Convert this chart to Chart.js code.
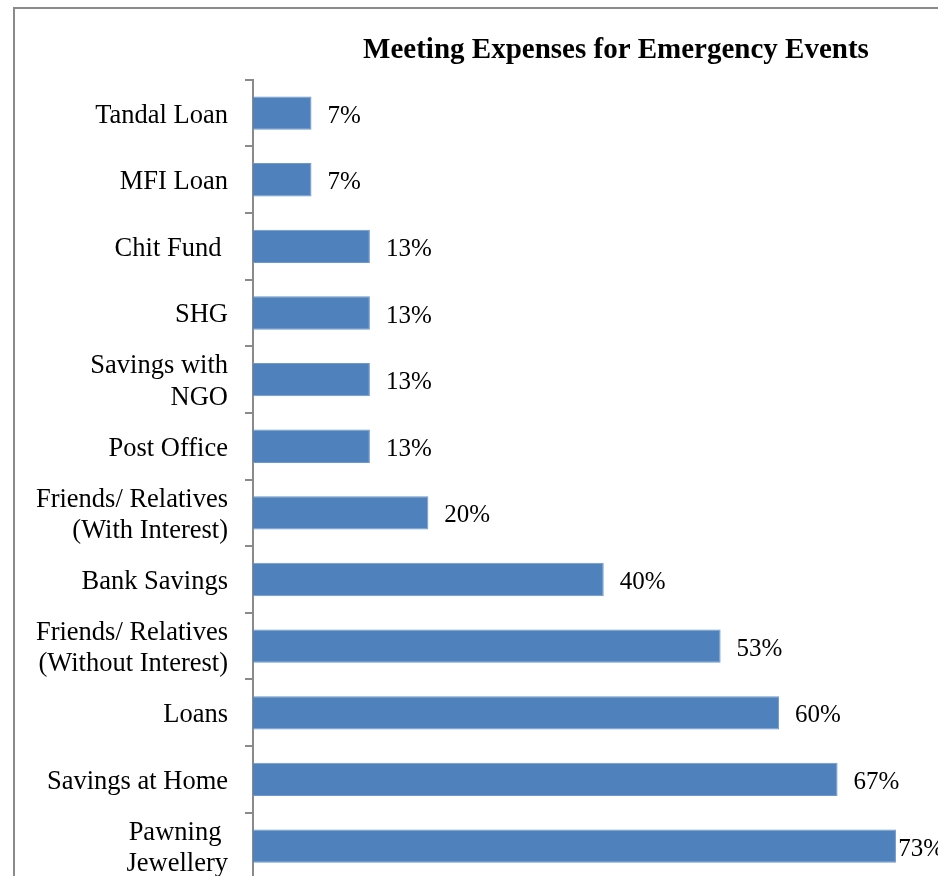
<!DOCTYPE html>
<html>
<head>
<meta charset="utf-8">
<script src="https://cdn.jsdelivr.net/npm/chart.js@4.4.1/dist/chart.umd.min.js"></script>
<style>
    html, body { margin: 0; padding: 0; background: #fff; overflow: hidden; }
    #box {
        position: absolute;
        left: 13px;
        top: 7px;
        width: 1000px;
        height: 1000px;
        border: 2px solid #8a8a8a;
    }
    #chart { display: block; }
</style>
</head>
<body>
<div id="box">
    <canvas id="chart" width="964" height="903"></canvas>
</div>
<script>
let categories = [
    'Tandal Loan',
    'MFI Loan',
    'Chit Fund ',
    'SHG',
    ['Savings with', 'NGO'],
    'Post Office',
    ['Friends/ Relatives', '(With Interest)'],
    'Bank Savings',
    ['Friends/ Relatives', '(Without Interest)'],
    'Loans',
    'Savings at Home',
    ['Pawning ', 'Jewellery']
]
let share_values = [6.67, 6.67, 13.33, 13.33, 13.33, 13.33, 20, 40, 53.33, 60, 66.67, 73.33]
let chart_title = 'Meeting Expenses for Emergency Events'

const ctx = document.getElementById('chart').getContext('2d')

// values printed just past the end of every bar, kept inside the chart like Excel does
const barValueLabels = {
    id: 'barValueLabels',
    afterDatasetsDraw(chart) {
        const c = chart.ctx
        const meta = chart.getDatasetMeta(0)
        const limit = chart.chartArea.right - 35
        c.save()
        c.font = '25px "Liberation Serif", "Times New Roman", serif'
        c.fillStyle = '#000'
        c.textBaseline = 'middle'
        c.textAlign = 'left'
        meta.data.forEach((bar, i) => {
            let txt = Math.round(share_values[i]) + '%'
            let w = c.measureText(txt).width
            let x = Math.min(bar.x + 16, limit - w)
            c.fillText(txt, x, bar.y + 3)
        })
        c.restore()
    }
}

let chart1 = new Chart(ctx, {
    type: 'bar',
    data: {
        labels: categories,
        datasets: [{
            label: 'Share',
            data: share_values,
            backgroundColor: '#4f81bd',
            borderColor: '#6e98cb',
            borderWidth: 1,
            categoryPercentage: 0.5,
            barPercentage: 1
        }]
    },
    options: {
        indexAxis: 'y',
        responsive: false,
        animation: false,
        devicePixelRatio: 1,
        layout: {
            padding: { left: 0, right: 0, top: 0, bottom: 0 }
        },
        plugins: {
            legend: { display: false },
            tooltip: { enabled: false },
            title: {
                display: true,
                text: chart_title,
                fullSize: false,
                color: '#000',
                font: { family: '"Liberation Serif", "Times New Roman", serif', size: 29, weight: 'bold' },
                padding: { top: 24, bottom: 12 }
            }
        },
        scales: {
            x: {
                display: false,
                min: 0,
                max: 82.8
            },
            y: {
                afterFit(scale) {
                    scale.width = 238
                },
                grid: {
                    display: true,
                    drawOnChartArea: false,
                    drawTicks: true,
                    tickLength: 8,
                    offset: true,
                    color: '#8a8a8a',
                    lineWidth: 2
                },
                border: {
                    display: true,
                    color: '#8a8a8a',
                    width: 2
                },
                ticks: {
                    color: '#000',
                    padding: 17,
                    labelOffset: 2.5,
                    autoSkip: false,
                    font: { family: '"Liberation Serif", "Times New Roman", serif', size: 26.5, lineHeight: 1.18 }
                }
            }
        }
    },
    plugins: [barValueLabels]
})
</script>
</body>
</html>
